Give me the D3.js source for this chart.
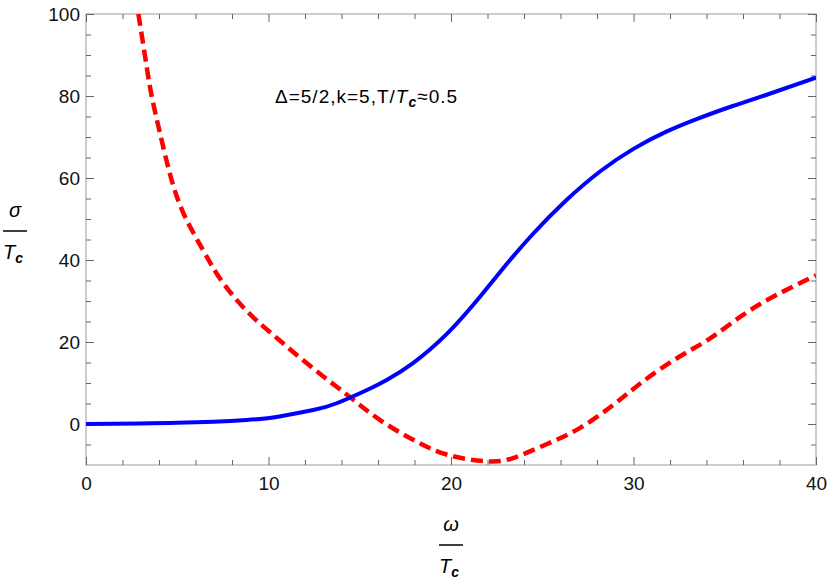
<!DOCTYPE html>
<html>
<head>
<meta charset="utf-8">
<script src="https://cdn.jsdelivr.net/npm/d3@7"></script>
<style>
  body { margin: 0; background: #fff; }
  svg { display: block; font-family: "Liberation Sans", Arial, sans-serif; }
  .tick text { fill: #111; font-size: 19px; }
</style>
</head>
<body>
<svg id="chart" width="830" height="585"></svg>
<script>
// conductivity curves (omega/Tc, sigma/Tc)
const blue_x = [0, 5, 8.8, 10.6, 12.45, 13.7, 15.4, 16.5, 17.9, 19.8, 21.6, 23.05, 24.5, 26.3, 28.2, 30, 31.8, 33.6, 35.4, 37.3, 40];
const blue_y = [0, 0.3, 1.0, 1.85, 3.4, 5.0, 8.3, 10.8, 14.8, 22.1, 31.1, 39.0, 46.4, 54.5, 61.7, 67.1, 71.3, 74.6, 77.5, 80.3, 84.5];

const red_x = [2.87, 3.05, 3.33, 3.6, 4.05, 4.6, 5.33, 6.4, 7.34, 8.8, 10.45, 12.1, 13.7, 14.65, 16.1, 17.9, 19.8, 21.95, 23.4, 25.2, 27.05, 28.9, 30.5, 32.4, 34.2, 36, 37.85, 40];
const red_y = [100, 95, 87, 80, 71, 61, 51.5, 42.5, 35.5, 27.6, 21.0, 14.8, 9.2, 5.9, 1.0, -3.8, -7.5, -9.1, -8.3, -5, -1, 4.7, 10.3, 16.1, 20.9, 26.6, 31.5, 36.3];

const x_ticks = [0, 10, 20, 30, 40];
const y_ticks = [0, 20, 40, 60, 80, 100];
const x_minor = [2, 4, 6, 8, 12, 14, 16, 18, 22, 24, 26, 28, 32, 34, 36, 38];
const y_minor = [-5, 5, 10, 15, 25, 30, 35, 45, 50, 55, 65, 70, 75, 85, 90, 95];

const svg = d3.select("#chart");
const margin = { left: 86, right: 14, top: 14, bottom: 120 };
const width = 830, height = 585;

const x = d3.scaleLinear().domain([0, 40]).range([margin.left, width - margin.right]);
const y = d3.scaleLinear().domain([-10, 100]).range([height - margin.bottom, margin.top]);

// frame
svg.append("rect")
  .attr("x", x(0)).attr("y", y(100))
  .attr("width", x(40) - x(0)).attr("height", y(-10) - y(100))
  .attr("fill", "none").attr("stroke", "#999").attr("stroke-width", 1);

function add_axis(axis, transform, labels) {
  const g = svg.append("g").attr("transform", transform).call(axis);
  g.select(".domain").remove();
  g.selectAll(".tick line").attr("stroke", "#666");
  if (!labels) g.selectAll(".tick text").remove();
  return g;
}

// bottom / top
add_axis(d3.axisBottom(x).tickValues(x_ticks).tickSize(-8).tickPadding(12).tickFormat(d3.format("d")),
  `translate(0,${y(-10)})`, true);
add_axis(d3.axisBottom(x).tickValues(x_minor).tickSize(-5), `translate(0,${y(-10)})`, false);
add_axis(d3.axisTop(x).tickValues(x_ticks).tickSize(-8), `translate(0,${y(100)})`, false);
add_axis(d3.axisTop(x).tickValues(x_minor).tickSize(-5), `translate(0,${y(100)})`, false);
// left / right
add_axis(d3.axisLeft(y).tickValues(y_ticks).tickSize(-8).tickPadding(6).tickFormat(d3.format("d")),
  `translate(${x(0)},0)`, true);
add_axis(d3.axisLeft(y).tickValues(y_minor).tickSize(-5), `translate(${x(0)},0)`, false);
add_axis(d3.axisRight(y).tickValues(y_ticks).tickSize(-8), `translate(${x(40)},0)`, false);
add_axis(d3.axisRight(y).tickValues(y_minor).tickSize(-5), `translate(${x(40)},0)`, false);

// curves
svg.append("clipPath").attr("id", "clip")
  .append("rect")
  .attr("x", x(0)).attr("y", y(100))
  .attr("width", x(40) - x(0)).attr("height", y(-10) - y(100));

const line = d3.line()
  .x((d) => x(d[0]))
  .y((d) => y(d[1]))
  .curve(d3.curveNatural);

const plot = svg.append("g").attr("clip-path", "url(#clip)");

plot.append("path")
  .datum(red_x.map((v, i) => [v, red_y[i]]))
  .attr("fill", "none")
  .attr("stroke", "#ff0000")
  .attr("stroke-width", 4.5)
  .attr("stroke-dasharray", "12,6")
  .attr("d", line);

plot.append("path")
  .datum(blue_x.map((v, i) => [v, blue_y[i]]))
  .attr("fill", "none")
  .attr("stroke", "#0000ff")
  .attr("stroke-width", 4)
  .attr("d", line);

// annotation
const note = svg.append("text")
  .attr("x", 275).attr("y", 103)
  .attr("font-size", 19)
  .attr("letter-spacing", 1)
  .attr("fill", "#000");
note.append("tspan").text("\u0394=5/2,k=5,T/");
note.append("tspan").attr("font-style", "italic").text("T");
note.append("tspan").attr("font-style", "italic").attr("font-weight", "bold")
  .attr("font-size", 14).attr("dy", 4).text("c");
note.append("tspan").attr("dy", -4).text("\u22480.5");

// axis labels as fractions
function fraction(cx, top_y, top_text) {
  const g = svg.append("g");
  g.append("text")
    .attr("x", cx).attr("y", top_y)
    .attr("text-anchor", "middle")
    .attr("font-size", 20).attr("font-style", "italic")
    .text(top_text);
  g.append("line")
    .attr("x1", cx - 12).attr("x2", cx + 12)
    .attr("y1", top_y + 14).attr("y2", top_y + 14)
    .attr("stroke", "#000").attr("stroke-width", 1.5);
  const t = g.append("text")
    .attr("x", cx - 2).attr("y", top_y + 42)
    .attr("text-anchor", "middle")
    .attr("font-size", 20).attr("font-style", "italic");
  t.append("tspan").text("T");
  t.append("tspan").attr("font-weight", "bold").attr("font-size", 14).attr("dy", 4).text("c");
  return g;
}

fraction(15, 217, "\u03c3");
fraction(451, 531, "\u03c9");
</script>
</body>
</html>
